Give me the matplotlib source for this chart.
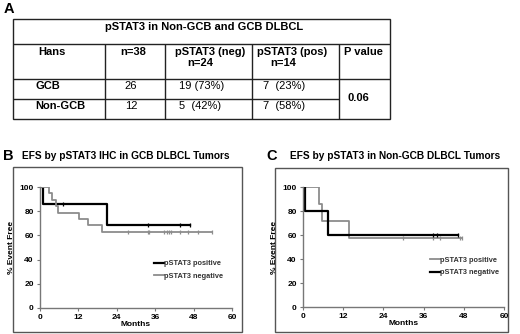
import numpy as np
import matplotlib
matplotlib.use("Agg")
import matplotlib.pyplot as plt
from matplotlib.patches import Rectangle

plt.rcParams['font.family'] = ['Liberation Sans', 'DejaVu Sans']

# ---- table (panel A) ----
table_title = "pSTAT3 in Non-GCB and GCB DLBCL"
header = ["Hans", "n=38", "pSTAT3 (neg)", "pSTAT3 (pos)", "P value"]
header_n = ["n=24", "n=14"]
row_names = ["GCB", "Non-GCB"]
row_n = ["26", "12"]
row_neg = ["19 (73%)", "5  (42%)"]
row_pos = ["7  (23%)", "7  (58%)"]
p_value = "0.06"

# ---- Kaplan-Meier curves (panels B, C) ----
# B: GCB
b_pos_t = [0, 1.0, 20.8]
b_pos_s = [100, 85.7, 68.6]
b_pos_end = 46.9
b_pos_cens = [7.3, 33.8, 43.8, 46.9]
b_neg_t = [0, 2.9, 3.9, 4.9, 5.7, 12.3, 14.9, 19.5]
b_neg_s = [100, 94.7, 89.5, 84.2, 78.9, 73.7, 68.4, 63.2]
b_neg_end = 53.6
b_neg_cens = [27.6, 33.6, 34.2, 38.9, 39.6, 40.3, 41.0, 43.8, 46.3, 49.5, 53.6]
# C: Non-GCB
c_pos_t = [0, 4.9, 5.6, 13.8]
c_pos_s = [100, 85.7, 71.4, 57.1]
c_pos_end = 47.6
c_pos_cens = [29.8, 38.9, 40.9, 46.9, 47.6]
c_neg_t = [0, 0.6, 7.4]
c_neg_s = [100, 80, 60]
c_neg_end = 46.4
c_neg_cens = [38.9, 39.9, 46.4]

x_ticks = [0, 12, 24, 36, 48, 60]
y_ticks = [0, 20, 40, 60, 80, 100]

W, H = 520, 334
fig = plt.figure(figsize=(W / 100, H / 100), dpi=100)
bg = fig.add_axes([0, 0, 1, 1])
bg.set_xlim(0, W)
bg.set_ylim(H, 0)
bg.axis('off')

def hline(y, x0, x1, c='#222222', lw=1.0):
    bg.plot([x0, x1], [y, y], color=c, lw=lw, solid_capstyle='butt')

def vline(x, y0, y1, c='#222222', lw=1.0):
    bg.plot([x, x], [y0, y1], color=c, lw=lw, solid_capstyle='butt')

# panel letters
bg.text(4, 9, "A", fontsize=10.5, fontweight='bold', va='center', ha='left')
bg.text(3, 156, "B", fontsize=10.5, fontweight='bold', va='center', ha='left')
bg.text(266, 156, "C", fontsize=10.5, fontweight='bold', va='center', ha='left')

# table grid
L, R, T, B = 13, 390, 19, 119
cols = [105, 165, 252, 339]
bg.add_patch(Rectangle((L, T), R - L, B - T, fill=False, ec='#222222', lw=1.0))
hline(44, L, R)
hline(79, L, R)
hline(99, L, cols[3])
for cx in cols:
    vline(cx, 44, B)

fs = 8.0
bg.text(204, 27, table_title, fontsize=fs, fontweight='bold', ha='center', va='center')
hx = [52, 133, 210, 292, 363]
for x, s in zip(hx, header):
    bg.text(x, 52, s, fontsize=fs, fontweight='bold', ha='center', va='center')
bg.text(200, 63, header_n[0], fontsize=fs, fontweight='bold', ha='center', va='center')
bg.text(283, 63, header_n[1], fontsize=fs, fontweight='bold', ha='center', va='center')
for i, ry in enumerate([86, 106]):
    bg.text(35, ry, row_names[i], fontsize=fs, fontweight='bold', ha='left', va='center')
    bg.text(131, ry, row_n[i], fontsize=fs, ha='center', va='center')
    bg.text(179, ry, row_neg[i], fontsize=fs, ha='left', va='center')
    bg.text(263, ry, row_pos[i], fontsize=fs, ha='left', va='center')
bg.text(347, 98, p_value, fontsize=fs, fontweight='bold', ha='left', va='center')

# panel titles and frames
bg.text(22, 156, "EFS by pSTAT3 IHC in GCB DLBCL Tumors", fontsize=7.3,
        fontweight='bold', ha='left', va='center')
bg.text(290, 156, "EFS by pSTAT3 in Non-GCB DLBCL Tumors", fontsize=7.3,
        fontweight='bold', ha='left', va='center')
bg.add_patch(Rectangle((13, 167), 229, 165, fill=False, ec='#555555', lw=1.0))
bg.add_patch(Rectangle((275, 168), 233, 164, fill=False, ec='#555555', lw=1.0))


def km_line(ax, t, s, end, cens, color, lw, label):
    xs = list(t) + [end]
    ys = list(s) + [s[-1]]
    ax.step(xs, ys, where='post', color=color, lw=lw, label=label)
    idx = np.searchsorted(t, cens, side='right') - 1
    cy = np.array(s)[idx]
    ax.plot(cens, cy, ls='none', marker='|', ms=3.5, mew=0.9, color=color)


def style(ax):
    ax.set_xlim(0, 60)
    ax.set_ylim(0, 100)
    ax.set_xticks(x_ticks)
    ax.set_yticks(y_ticks)
    for sp in ['top', 'right']:
        ax.spines[sp].set_visible(False)
    for sp in ['left', 'bottom']:
        ax.spines[sp].set_color('#777777')
        ax.spines[sp].set_linewidth(1.0)
    ax.tick_params(direction='out', length=2.5, width=0.8, color='#777777',
                   labelsize=6.0, pad=2)
    for lab in ax.get_xticklabels() + ax.get_yticklabels():
        lab.set_fontweight('bold')
    ax.set_xlabel("Months", fontsize=6.0, fontweight='bold', labelpad=0)
    ax.set_ylabel("% Event Free", fontsize=6.0, fontweight='bold', labelpad=3)
    ax.patch.set_alpha(0)


black, gray = '#000000', '#8c8c8c'

axb = fig.add_axes([40 / W, (H - 308) / H, 192 / W, 121 / H])
km_line(axb, b_pos_t, b_pos_s, b_pos_end, b_pos_cens, black, 1.6, "pSTAT3 positive")
km_line(axb, b_neg_t, b_neg_s, b_neg_end, b_neg_cens, gray, 1.3, "pSTAT3 negative")
style(axb)
axb.legend(loc='lower left', bbox_to_anchor=(0.56, 0.18), frameon=False,
           handlelength=1.3, handletextpad=0.0, labelspacing=0.7,
           prop={'weight': 'bold', 'size': 5.3}, labelcolor='#333333')

axc = fig.add_axes([303 / W, (H - 307) / H, 201 / W, 120 / H])
km_line(axc, c_pos_t, c_pos_s, c_pos_end, c_pos_cens, gray, 1.3, "pSTAT3 positive")
km_line(axc, c_neg_t, c_neg_s, c_neg_end, c_neg_cens, black, 1.6, "pSTAT3 negative")
style(axc)
axc.legend(loc='lower left', bbox_to_anchor=(0.6, 0.2), frameon=False,
           handlelength=1.3, handletextpad=0.0, labelspacing=0.7,
           prop={'weight': 'bold', 'size': 5.3}, labelcolor='#333333')

fig.savefig("out.png", dpi=100)
